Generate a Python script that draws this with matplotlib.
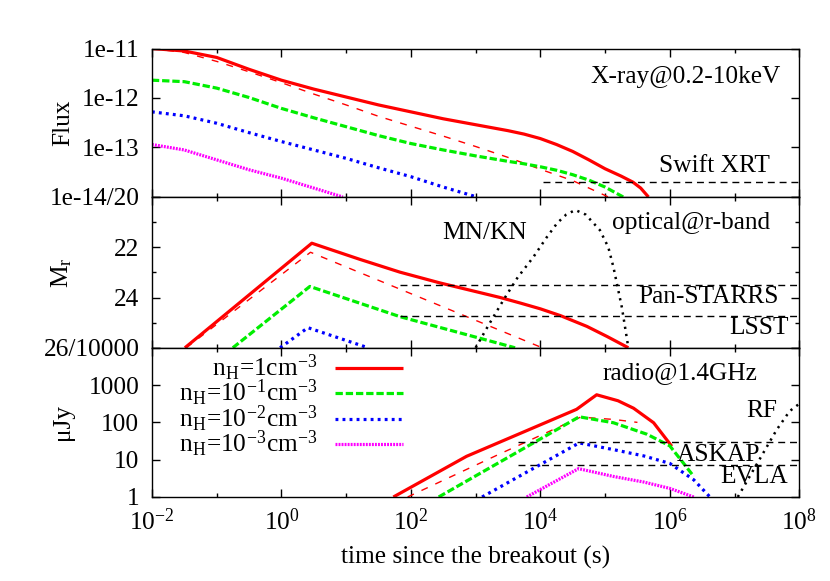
import numpy as np
import matplotlib.pyplot as plt
from matplotlib.ticker import FixedLocator, MultipleLocator, LogLocator, NullFormatter

plt.rcParams['font.family'] = ['Liberation Serif', 'DejaVu Serif']
plt.rcParams['mathtext.fontset'] = 'stix'
plt.rcParams['font.size'] = 18.3

# ---- X-ray flux (log10 t, log10 flux) ----
xr1_t = [-2, -1.5, -1, -0.5, 0, 0.5, 1, 1.5, 2, 2.5, 3, 3.5, 3.75, 4, 4.25, 4.5, 4.75,
         5, 5.25, 5.43, 5.55, 5.67]
xr1_f = [-11.00, -11.05, -11.18, -11.42, -11.64, -11.82, -11.98, -12.14, -12.28, -12.42,
         -12.54, -12.66, -12.73, -12.82, -12.94, -13.08, -13.25, -13.43, -13.58, -13.70,
         -13.82, -14.0]
xr1d_t = [-2, -1.5, -1, -0.5, 0, 0.5, 1, 1.5, 2, 2.5, 3, 3.5, 4, 4.5, 5.05]
xr1d_f = [-11.0, -11.08, -11.26, -11.47, -11.69, -11.92, -12.14, -12.37, -12.57, -12.77,
          -12.98, -13.20, -13.44, -13.67, -14.0]
xr2_t = [-2, -1.5, -1, -0.5, 0, 0.5, 1, 1.5, 2, 2.5, 3, 3.5, 3.75, 4, 4.25, 4.5, 4.75, 5, 5.28]
xr2_f = [-11.64, -11.67, -11.80, -11.99, -12.21, -12.40, -12.58, -12.76, -12.92, -13.05,
         -13.17, -13.28, -13.33, -13.39, -13.46, -13.55, -13.66, -13.80, -14.0]
xr3_t = [-2, -1.5, -1, -0.5, 0, 0.5, 1, 1.5, 2, 2.5, 3.02]
xr3_f = [-12.28, -12.36, -12.51, -12.70, -12.88, -13.05, -13.22, -13.41, -13.59, -13.80, -14.0]
xr4_t = [-2, -1.5, -1, -0.5, 0, 0.5, 0.95]
xr4_f = [-12.94, -13.05, -13.25, -13.45, -13.62, -13.82, -14.0]
swift_t = [4.04, 8.0]
swift_f = [-13.7, -13.7]

# ---- optical r-band magnitude ----
op1_t = [-1.49, 0.47, 1.21, 1.83, 2.45, 3.38, 3.69, 4.0, 4.31, 4.72, 5.03, 5.36]
op1_m = [26, 21.84, 22.48, 22.99, 23.42, 24.0, 24.22, 24.45, 24.72, 25.15, 25.55, 26.0]
op1d_t = [-1.47, 0.45, 4.03]
op1d_m = [26, 22.2, 26]
op2_t = [-0.75, 0.44, 1.83, 3.61]
op2_m = [26, 23.56, 24.76, 26]
op3_t = [-0.02, 0.41, 1.34]
op3_m = [26, 25.2, 26]
kn_t = [3.0, 3.2, 3.43, 3.65, 3.89, 4.1, 4.26, 4.4, 4.54, 4.7, 4.92, 5.05, 5.13, 5.26, 5.36]
kn_m = [26, 25.1, 24.1, 23.2, 22.4, 21.6, 21.04, 20.7, 20.52, 20.7, 21.32, 22.0, 22.8, 24.4, 26]
panstarrs_t = [1.83, 8.0]
panstarrs_m = [23.5, 23.5]
lsst_t = [1.83, 8.0]
lsst_m = [24.75, 24.75]

# ---- radio 1.4 GHz (log10 t, log10 uJy) ----
rd1_t = [1.73, 2.86, 4.56, 4.87, 5.2, 5.44, 5.75, 6.03]
rd1_f = [0, 1.09, 2.35, 2.74, 2.58, 2.38, 1.99, 1.36]
rd1d_t = [1.95, 3.33, 4.62, 5.13, 5.5]
rd1d_f = [0, 1.12, 2.14, 2.08, 2.0]
rd2_t = [2.43, 4.6, 5.13, 5.65, 6.0, 6.2, 6.37]
rd2_f = [0, 2.15, 1.99, 1.68, 1.37, 0.93, 0.55]
rd3_t = [3.1, 4.6, 5.13, 5.6, 6.0, 6.37, 6.62]
rd3_f = [0, 1.45, 1.27, 1.1, 0.9, 0.46, 0]
rd4_t = [3.79, 4.59, 5.13, 5.6, 6.0, 6.37]
rd4_f = [0, 0.76, 0.55, 0.4, 0.23, 0]
rf_t = [7.05, 7.25, 7.45, 7.65, 7.85, 8.0]
rf_f = [0, 0.6, 1.2, 1.8, 2.3, 2.5]
askap_t = [3.66, 8.0]
askap_f = [1.48, 1.48]
evla_t = [3.66, 8.0]
evla_f = [0.85, 0.85]

labels = [r'n$_\mathregular{H}$=1cm$^\mathregular{-3}$',
          r'n$_\mathregular{H}$=10$^\mathregular{-1}$cm$^\mathregular{-3}$',
          r'n$_\mathregular{H}$=10$^\mathregular{-2}$cm$^\mathregular{-3}$',
          r'n$_\mathregular{H}$=10$^\mathregular{-3}$cm$^\mathregular{-3}$']

red, green, blue, mag = '#ff0000', '#00ee00', '#0000ff', '#ff00ff'
st_red = dict(color=red, lw=2.3, solid_capstyle='butt')
st_green = dict(color=green, lw=2.3, dashes=(2.3, 0.9))
st_blue = dict(color=blue, lw=2.3, dashes=(0.9, 1.3))
st_mag = dict(color=mag, lw=2.3, dashes=(0.6, 0.35))
st_thin = dict(color=red, lw=1.0, dashes=(5, 6))
st_lim = dict(color='black', lw=1.0, dashes=(5, 3.5))
st_dot = dict(color='black', lw=1.8, dashes=(0.9, 2.0))


def p(v):
    return 10.0 ** np.array(v)


fig = plt.figure(figsize=(8.3, 5.81), dpi=100)
ax1 = fig.add_axes([0.183, 0.661, 0.780, 0.2555])
ax2 = fig.add_axes([0.183, 0.4014, 0.780, 0.2596], sharex=ax1)
ax3 = fig.add_axes([0.183, 0.1446, 0.780, 0.2568], sharex=ax1)

# top: X-ray
ax1.plot(p(xr1_t), p(xr1_f), **st_red)
ax1.plot(p(xr1d_t), p(xr1d_f), **st_thin)
ax1.plot(p(xr2_t), p(xr2_f), **st_green)
ax1.plot(p(xr3_t), p(xr3_f), **st_blue)
ax1.plot(p(xr4_t), p(xr4_f), **st_mag)
ax1.plot(p(swift_t), p(swift_f), **st_lim)
ax1.set_yscale('log')
ax1.set_ylim(1e-14, 1e-11)
ax1.set_yticks([1e-11, 1e-12, 1e-13, 1e-14])
ax1.set_yticklabels(['1e-11', '1e-12', '1e-13', '1e-14/20'])
ax1.set_ylabel('Flux')
ax1.text(0.971, 0.808, 'X-ray@0.2-10keV', transform=ax1.transAxes, ha='right', va='center')
ax1.text(0.955, 0.21, 'Swift XRT', transform=ax1.transAxes, ha='right', va='center')

# middle: optical
ax2.plot(p(op1_t), op1_m, **st_red)
ax2.plot(p(op1d_t), op1d_m, **st_thin)
ax2.plot(p(op2_t), op2_m, **st_green)
ax2.plot(p(op3_t), op3_m, **st_blue)
ax2.plot(p(kn_t), kn_m, **st_dot)
ax2.plot(p(panstarrs_t), panstarrs_m, **st_lim)
ax2.plot(p(lsst_t), lsst_m, **st_lim)
ax2.set_ylim(26, 20)
ax2.set_yticks([20, 22, 24, 26])
ax2.set_yticklabels(['', '22', '24', '26/10000'])
ax2.yaxis.set_minor_locator(MultipleLocator(1))
ax2.set_ylabel(r'M$_\mathregular{r}$')
ax2.text(0.955, 0.828, 'optical@r-band', transform=ax2.transAxes, ha='right', va='center')
ax2.text(0.514, 0.762, 'MN/KN', transform=ax2.transAxes, ha='center', va='center')
ax2.text(0.968, 0.338, 'Pan-STARRS', transform=ax2.transAxes, ha='right', va='center')
ax2.text(0.983, 0.132, 'LSST', transform=ax2.transAxes, ha='right', va='center')

# bottom: radio
ax3.plot(p(rd1_t), p(rd1_f), **st_red)
ax3.plot(p(rd1d_t), p(rd1d_f), **st_thin)
ax3.plot(p(rd2_t), p(rd2_f), **st_green)
ax3.plot(p(rd3_t), p(rd3_f), **st_blue)
ax3.plot(p(rd4_t), p(rd4_f), **st_mag)
ax3.plot(p(rf_t), p(rf_f), **st_dot)
ax3.plot(p(askap_t), p(askap_f), **st_lim)
ax3.plot(p(evla_t), p(evla_f), **st_lim)
ax3.set_yscale('log')
ax3.set_ylim(1, 1e4)
ax3.set_yticks([1, 10, 100, 1000, 10000])
ax3.set_yticklabels(['1', '10', '100', '1000', ''])
ax3.set_ylabel('μJy')
ax3.text(0.935, 0.832, 'radio@1.4GHz', transform=ax3.transAxes, ha='right', va='center')
ax3.text(0.966, 0.577, 'RF', transform=ax3.transAxes, ha='right', va='center')
ax3.text(0.940, 0.282, 'ASKAP', transform=ax3.transAxes, ha='right', va='center')
ax3.text(0.983, 0.134, 'EVLA', transform=ax3.transAxes, ha='right', va='center')

# manual legend (text right aligned, sample on the right)
styles = [st_red, st_green, st_blue, st_mag]
rows = [0.864, 0.696, 0.523, 0.354]
for lab, st, yy in zip(labels, styles, rows):
    ax3.text(0.2566, yy, lab, transform=ax3.transAxes, ha='right', va='center')
    ax3.plot([0.283, 0.388], [yy, yy], transform=ax3.transAxes, **st)

# x axis
ax1.set_xscale('log')
ax1.set_xlim(1e-2, 1e8)
major_x = [1e-2, 1, 1e2, 1e4, 1e6, 1e8]
minor_x = [1e-1, 1e1, 1e3, 1e5, 1e7]
for ax in (ax1, ax2, ax3):
    ax.xaxis.set_major_locator(FixedLocator(major_x))
    ax.xaxis.set_minor_locator(FixedLocator(minor_x))
    ax.xaxis.set_minor_formatter(NullFormatter())
    ax.tick_params(which='both', direction='in', top=True, right=True, width=1.0)
    ax.tick_params(which='major', length=5.5, pad=9)
    ax.tick_params(which='minor', length=3)
    for s in ax.spines.values():
        s.set_linewidth(1.0)
    ax.yaxis.set_label_coords(-0.12, 0.5)
for ax in (ax1, ax3):
    ax.yaxis.set_minor_locator(LogLocator(base=10, subs=np.arange(2, 10)))
    ax.yaxis.set_minor_formatter(NullFormatter())
ax1.tick_params(labelbottom=False)
ax2.tick_params(labelbottom=False)
ax3.set_xticklabels([r'$\mathregular{10^{-2}}$', r'$\mathregular{10^{0}}$', r'$\mathregular{10^{2}}$',
                     r'$\mathregular{10^{4}}$', r'$\mathregular{10^{6}}$', r'$\mathregular{10^{8}}$'])
ax3.tick_params(axis='x', pad=8)
ax3.set_xlabel('time since the breakout (s)', labelpad=8)

fig.savefig('out.png', dpi=100)
